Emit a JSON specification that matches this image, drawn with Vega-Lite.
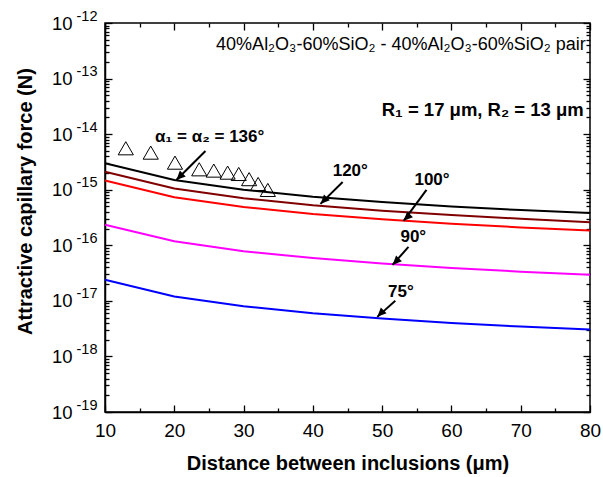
{
  "$schema": "https://vega.github.io/schema/vega-lite/v6.json",
  "width": 485,
  "height": 389,
  "autosize": {"type": "none"},
  "padding": {"left": 105, "top": 23, "right": 13, "bottom": 65},
  "background": "white",
  "config": {
    "view": {"stroke": "black", "strokeWidth": 1.5},
    "font": "Liberation Sans",
    "axis": {"grid": false, "domainColor": "black", "domainWidth": 1.5, "tickColor": "black", "tickWidth": 1.3, "labelColor": "black", "titleColor": "black", "labelFont": "Liberation Sans", "titleFont": "Liberation Sans"}
  },
  "datasets": {
    "curves": [
      {"s": "136", "x": 10, "y": 3.0e-15}, {"s": "136", "x": 20, "y": 1.5e-15}, {"s": "136", "x": 30, "y": 1.0e-15}, {"s": "136", "x": 40, "y": 7.5e-16}, {"s": "136", "x": 50, "y": 6.0e-16}, {"s": "136", "x": 60, "y": 5.0e-16}, {"s": "136", "x": 70, "y": 4.3e-16}, {"s": "136", "x": 80, "y": 3.8e-16},
      {"s": "120", "x": 10, "y": 2.1e-15}, {"s": "120", "x": 20, "y": 1.05e-15}, {"s": "120", "x": 30, "y": 7.0e-16}, {"s": "120", "x": 40, "y": 5.25e-16}, {"s": "120", "x": 50, "y": 4.2e-16}, {"s": "120", "x": 60, "y": 3.5e-16}, {"s": "120", "x": 70, "y": 3.0e-16}, {"s": "120", "x": 80, "y": 2.6e-16},
      {"s": "100", "x": 10, "y": 1.47e-15}, {"s": "100", "x": 20, "y": 7.35e-16}, {"s": "100", "x": 30, "y": 4.9e-16}, {"s": "100", "x": 40, "y": 3.67e-16}, {"s": "100", "x": 50, "y": 2.94e-16}, {"s": "100", "x": 60, "y": 2.45e-16}, {"s": "100", "x": 70, "y": 2.1e-16}, {"s": "100", "x": 80, "y": 1.84e-16},
      {"s": "90", "x": 10, "y": 2.35e-16}, {"s": "90", "x": 20, "y": 1.18e-16}, {"s": "90", "x": 30, "y": 7.8e-17}, {"s": "90", "x": 40, "y": 5.9e-17}, {"s": "90", "x": 50, "y": 4.7e-17}, {"s": "90", "x": 60, "y": 3.9e-17}, {"s": "90", "x": 70, "y": 3.35e-17}, {"s": "90", "x": 80, "y": 2.95e-17},
      {"s": "75", "x": 10, "y": 2.4e-17}, {"s": "75", "x": 20, "y": 1.2e-17}, {"s": "75", "x": 30, "y": 8.0e-18}, {"s": "75", "x": 40, "y": 6.0e-18}, {"s": "75", "x": 50, "y": 4.8e-18}, {"s": "75", "x": 60, "y": 4.0e-18}, {"s": "75", "x": 70, "y": 3.45e-18}, {"s": "75", "x": 80, "y": 3.05e-18}
    ],
    "tri": [
      {"x": 13.0, "y": 5.57e-15}, {"x": 16.6, "y": 4.65e-15}, {"x": 20.1, "y": 3.07e-15}, {"x": 23.6, "y": 2.33e-15}, {"x": 25.7, "y": 2.21e-15},
      {"x": 27.7, "y": 2.03e-15}, {"x": 29.3, "y": 1.92e-15}, {"x": 30.8, "y": 1.55e-15}, {"x": 32.1, "y": 1.27e-15}, {"x": 33.5, "y": 9.9e-16}
    ],
    "arrows": [
      {"x": 24.5, "y": 4.99e-15, "x2": 20.3, "y2": 1.5e-15},
      {"x": 44.3, "y": 1.38e-15, "x2": 41.1, "y2": 5.56e-16},
      {"x": 56.4, "y": 9.9e-16, "x2": 53.1, "y2": 2.75e-16},
      {"x": 53.8, "y": 9.36e-17, "x2": 51.5, "y2": 4.44e-17},
      {"x": 51.9, "y": 1.0e-17, "x2": 49.3, "y2": 5.15e-18}
    ],
    "labels": [
      {"x": 25.1, "y": 8.9e-15, "t": "α₁ = α₂ = 136°"},
      {"x": 45.4, "y": 2.18e-15, "t": "120°"},
      {"x": 57.2, "y": 1.5e-15, "t": "100°"},
      {"x": 54.5, "y": 1.42e-16, "t": "90°"},
      {"x": 52.7, "y": 1.45e-17, "t": "75°"}
    ],
    "notes": [
      {"x": 79.4, "y": 4.0e-13, "t": "40%Al₂O₃-60%SiO₂ - 40%Al₂O₃-60%SiO₂ pair", "k": "comp"},
      {"x": 79.1, "y": 2.72e-14, "t": "R₁ = 17 μm, R₂ = 13 μm", "k": "r"}
    ]
  },
  "resolve": {"axis": {"x": "independent", "y": "independent"}},
  "layer": [
    {
      "data": {"name": "curves"},
      "mark": {"type": "line", "strokeWidth": 2},
      "encoding": {
        "x": {"field": "x", "type": "quantitative",
          "scale": {"domain": [10, 80], "nice": false},
          "axis": {"orient": "bottom", "values": [10, 15, 20, 25, 30, 35, 40, 45, 50, 55, 60, 65, 70, 75, 80],
            "labelExpr": "datum.value % 10 == 0 ? datum.label : ''",
            "tickSize": {"condition": {"test": "datum.value % 10 == 0", "value": -7}, "value": -4},
            "labelPadding": 16, "labelFontSize": 19, "labelFlush": false,
            "title": "Distance between inclusions (μm)", "titleFontSize": 20, "titleFontWeight": "bold", "titlePadding": 13}},
        "y": {"field": "y", "type": "quantitative",
          "scale": {"type": "log", "domain": [1e-19, 1e-12], "nice": false},
          "axis": {"orient": "left",
            "values": [1e-19, 2e-19, 3e-19, 4e-19, 5e-19, 6e-19, 7e-19, 8e-19, 9e-19, 1e-18, 2e-18, 3e-18, 4e-18, 5e-18, 6e-18, 7e-18, 8e-18, 9e-18, 1e-17, 2e-17, 3e-17, 4e-17, 5e-17, 6e-17, 7e-17, 8e-17, 9e-17, 1e-16, 2e-16, 3e-16, 4e-16, 5e-16, 6e-16, 7e-16, 8e-16, 9e-16, 1e-15, 2e-15, 3e-15, 4e-15, 5e-15, 6e-15, 7e-15, 8e-15, 9e-15, 1e-14, 2e-14, 3e-14, 4e-14, 5e-14, 6e-14, 7e-14, 8e-14, 9e-14, 1e-13, 2e-13, 3e-13, 4e-13, 5e-13, 6e-13, 7e-13, 8e-13, 9e-13, 1e-12],
            "labelExpr": "abs(log(datum.value)/LN10 - round(log(datum.value)/LN10)) < 0.001 ? '10' : ''",
            "tickSize": {"condition": {"test": "abs(log(datum.value)/LN10 - round(log(datum.value)/LN10)) < 0.001", "value": -7}, "value": -4},
            "labelPadding": 40, "labelFontSize": 18.5, "labelFlush": false, "offset": 0,
            "title": "Attractive capillary force (N)", "titleFontSize": 20, "titleFontWeight": "bold",
            "titleX": -80, "titleY": 178, "titleBaseline": "middle", "titleAlign": "center", "titleAngle": -90}},
        "color": {"field": "s", "type": "nominal", "legend": null,
          "scale": {"domain": ["136", "120", "100", "90", "75"], "range": ["#000000", "#800000", "#ff0000", "#ff00ff", "#0000ff"]}}
      }
    },
    {
      "data": {"name": "tri"},
      "mark": {"type": "point", "shape": "triangle-up", "filled": false, "stroke": "black", "strokeWidth": 1, "size": 230, "opacity": 1},
      "encoding": {
        "x": {"field": "x", "type": "quantitative",
          "axis": {"orient": "top", "values": [10, 15, 20, 25, 30, 35, 40, 45, 50, 55, 60, 65, 70, 75, 80], "labels": false, "title": null, "domain": false,
            "tickSize": {"condition": {"test": "datum.value % 10 == 0", "value": -7}, "value": -4}}},
        "y": {"field": "y", "type": "quantitative",
          "axis": {"orient": "right", "labels": false, "title": null, "domain": false,
            "values": [1e-19, 2e-19, 3e-19, 4e-19, 5e-19, 6e-19, 7e-19, 8e-19, 9e-19, 1e-18, 2e-18, 3e-18, 4e-18, 5e-18, 6e-18, 7e-18, 8e-18, 9e-18, 1e-17, 2e-17, 3e-17, 4e-17, 5e-17, 6e-17, 7e-17, 8e-17, 9e-17, 1e-16, 2e-16, 3e-16, 4e-16, 5e-16, 6e-16, 7e-16, 8e-16, 9e-16, 1e-15, 2e-15, 3e-15, 4e-15, 5e-15, 6e-15, 7e-15, 8e-15, 9e-15, 1e-14, 2e-14, 3e-14, 4e-14, 5e-14, 6e-14, 7e-14, 8e-14, 9e-14, 1e-13, 2e-13, 3e-13, 4e-13, 5e-13, 6e-13, 7e-13, 8e-13, 9e-13, 1e-12],
            "tickSize": {"condition": {"test": "abs(log(datum.value)/LN10 - round(log(datum.value)/LN10)) < 0.001", "value": -7}, "value": -4}}}
      }
    },
    {
      "data": {"name": "arrows"},
      "mark": {"type": "rule", "color": "black", "strokeWidth": 2},
      "encoding": {
        "x": {"field": "x", "type": "quantitative", "axis": null},
        "y": {"field": "y", "type": "quantitative", "axis": null},
        "x2": {"field": "x2"},
        "y2": {"field": "y2"}
      }
    },
    {
      "data": {"name": "arrows"},
      "mark": {"type": "point", "shape": "M0,0 L-0.45,1 L0.45,1 Z", "filled": true, "color": "black", "opacity": 1, "size": 330, "angle": 225},
      "encoding": {
        "x": {"field": "x2", "type": "quantitative", "axis": null},
        "y": {"field": "y2", "type": "quantitative",
          "axis": {"orient": "left", "values": [1e-19, 1e-18, 1e-17, 1e-16, 1e-15, 1e-14, 1e-13, 1e-12],
            "labelExpr": "'-' + round(-log(datum.value)/LN10)",
            "ticks": false, "domain": false, "labelPadding": 8, "labelOffset": -7, "labelFontSize": 14.5, "labelFlush": false, "offset": 0, "title": null}}
      }
    },
    {
      "data": {"name": "labels"},
      "mark": {"type": "text", "fontSize": 17, "fontWeight": "bold", "align": "center", "baseline": "middle", "color": "black"},
      "encoding": {
        "x": {"field": "x", "type": "quantitative", "axis": null},
        "y": {"field": "y", "type": "quantitative", "axis": null},
        "text": {"field": "t"}
      }
    },
    {
      "data": {"name": "notes"},
      "transform": [{"filter": "datum.k == 'r'"}],
      "mark": {"type": "text", "fontSize": 18.5, "fontWeight": "bold", "align": "right", "baseline": "middle", "color": "black"},
      "encoding": {
        "x": {"field": "x", "type": "quantitative", "axis": null},
        "y": {"field": "y", "type": "quantitative", "axis": null},
        "text": {"field": "t"}
      }
    },
    {
      "data": {"name": "notes"},
      "transform": [{"filter": "datum.k == 'comp'"}],
      "mark": {"type": "text", "fontSize": 18, "fontWeight": "normal", "align": "right", "baseline": "middle", "color": "black"},
      "encoding": {
        "x": {"field": "x", "type": "quantitative", "axis": null},
        "y": {"field": "y", "type": "quantitative", "axis": null},
        "text": {"field": "t"}
      }
    }
  ]
}
